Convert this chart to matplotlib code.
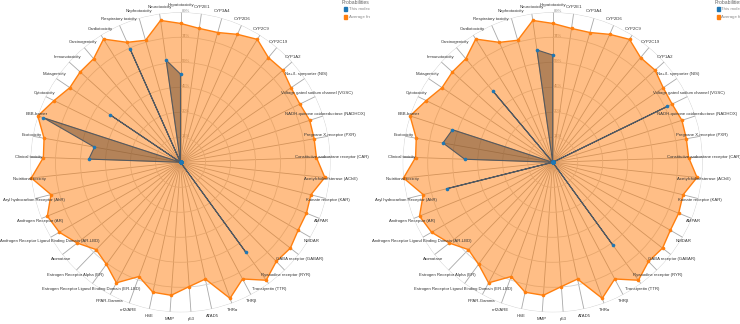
import numpy as np
import matplotlib.pyplot as plt
from matplotlib.patches import Rectangle
from matplotlib.transforms import Bbox, TransformedBbox

plt.rcParams['font.family'] = ['Liberation Sans', 'DejaVu Sans']

W, H = 740, 324

endpoints = [
    "Hepatotoxicity", "CYP2E1", "CYP3A4", "CYP2D6", "CYP2C9", "CYP2C19", "CYP1A2",
    "Na+/I- symporter (NIS)", "Voltage gated sodium channel (VGSC)",
    "NADH-quinone oxidoreductase (NADHOX)", "Pregnane X-receptor (PXR)",
    "Constitutive androstane receptor (CAR)", "Acetylcholinesterase (AChE)",
    "Kainate receptor (KAR)", "AMPAR", "NMDAR", "GABA receptor (GABAR)",
    "Ryanodine receptor (RYR)", "Transtyretin (TTR)", "THRβ", "THRα", "ATAD5",
    "p53", "MMP", "HSE", "nrf2/ARE", "PPAR-Gamma",
    "Estrogen Receptor Ligand Binding Domain (ER-LBD)", "Estrogen Receptor Alpha (ER)",
    "Aromatase", "Androgen Receptor Ligand Binding Domain (AR-LBD)",
    "Androgen Receptor (AR)", "Aryl hydrocarbon Receptor (AhR)",
    "Nutritional toxicity", "Clinical toxicity", "Ecotoxicity", "BBB-barrier",
    "Cytotoxicity", "Mutagenicity", "Immunotoxicity", "Carcinogenicity",
    "Cardiotoxicity", "Respiratory toxicity", "Nephrotoxicity", "Neurotoxicity",
]

average = [
    0.825, 0.803, 0.802, 0.832, 0.861, 0.812, 0.818, 0.792, 0.789, 0.807,
    0.806, 0.808, 0.862, 0.798, 0.807, 0.807, 0.828, 0.819, 0.866, 0.785,
    0.860, 0.709, 0.740, 0.792, 0.789, 0.722, 0.811, 0.749, 0.721, 0.779,
    0.831, 0.853, 0.793, 0.891, 0.815, 0.823, 0.891, 0.836, 0.793, 0.802,
    0.803, 0.863, 0.780, 0.754, 0.851,
]

molecule_left = [
    0.524, 0, 0, 0, 0, 0, 0, 0, 0, 0,
    0, 0, 0, 0, 0, 0, 0, 0, 0.660, 0,
    0, 0, 0, 0, 0, 0, 0, 0, 0, 0,
    0, 0, 0, 0, 0.545, 0.519, 0.856, 0, 0.504, 0,
    0, 0, 0.736, 0, 0.613,
]

molecule_right = [
    0.637, 0, 0, 0, 0, 0, 0, 0, 0.757, 0,
    0, 0, 0, 0, 0, 0, 0, 0, 0.608, 0,
    0, 0, 0, 0, 0, 0, 0, 0, 0, 0,
    0, 0, 0.650, 0, 0.523, 0.662, 0.626, 0, 0, 0,
    0.549, 0, 0, 0, 0.674,
]

legend_title = "Probabilities"
legend_labels = ["This molecule", "Average from database"]

RMAX = 0.891
ORANGE = "#ff7f0e"
BLUE = "#1f77b4"

fig = plt.figure(figsize=(W / 100, H / 100), dpi=100)

n = len(endpoints)
theta = np.arange(n) * 2 * np.pi / n
ticks = [RMAX * k / 6 for k in range(1, 7)]


def radar(cx, cy, mol, panel_x0, legend_x):
    R = 150
    ax = fig.add_axes([(cx - R) / W, (H - cy - R) / H, 2 * R / W, 2 * R / H],
                      projection="polar")
    ax.set_theta_zero_location("N")
    ax.set_theta_direction(-1)
    ax.set_ylim(0, RMAX)
    ax.spines["polar"].set_visible(False)
    ax.set_facecolor("none")
    ax.set_axisbelow(True)
    ax.set_xticks(theta)
    ax.set_xticklabels([])
    ax.set_yticks(ticks)
    ax.set_yticklabels([])
    ax.xaxis.grid(True, color="#a8a8a8", lw=0.6)
    ax.yaxis.grid(True, color="#cfcfcf", lw=0.6)
    ax.tick_params(length=0)

    # radial tick labels along first axis
    for t in ticks:
        ax.annotate(f"{round(t * 100)}%", (0, t), xytext=(1.0, 1.2),
                    textcoords="offset points", ha="left", va="center",
                    fontsize=3.0, color="#909090", zorder=0.9,
                    annotation_clip=False)

    th = np.append(theta, theta[0])
    avg = np.append(average, average[0])
    ax.fill(th, avg, color=ORANGE, alpha=0.5, lw=0, zorder=1, clip_on=False)
    ax.plot(th, avg, color=ORANGE, lw=1.0, zorder=2, clip_on=False)
    ax.plot(theta, average, "o", color=ORANGE, ms=2.6, mec="none",
            zorder=3, clip_on=False)

    m = np.append(mol, mol[0])
    ax.fill(th, m, color="#6b4a2e", alpha=0.5, lw=0, zorder=4, clip_on=False)
    ax.plot(th, m, color="#555a60", lw=0.8, zorder=5, clip_on=False)
    ax.plot(theta, mol, "o", color=BLUE, ms=2.6, mec="none",
            zorder=6, clip_on=False)

    for a, name in zip(theta, endpoints):
        ax.annotate(name, (a, RMAX),
                    xytext=(1.1 * np.sin(a), 5.2 * np.cos(a)),
                    textcoords="offset points", ha="center", va="center",
                    fontsize=3.1, color="#333333", zorder=7,
                    annotation_clip=False)

    # legend, cut off at the panel edge
    clip = TransformedBbox(Bbox([[panel_x0 / W, 0], [(panel_x0 + 370) / W, 1]]),
                           fig.transFigure)
    items = [fig.text(legend_x / W, 1 - 3 / H, legend_title, fontsize=3.6,
                      color="#666666", ha="left", va="center")]
    for k, (lab, col) in enumerate(zip(legend_labels, [BLUE, ORANGE])):
        y = 9 + 8 * k
        fig.patches.append(Rectangle(((legend_x + 2.5) / W, 1 - (y + 1.5) / H),
                                     3 / W, 3 / H, color=col,
                                     transform=fig.transFigure))
        items.append(fig.text((legend_x + 7) / W, 1 - y / H, lab, fontsize=3.2,
                              color="#888888", ha="left", va="center"))
    for t in items:
        t.set_clip_box(clip)
        t.set_clip_on(True)


radar(180.5, 162.3, molecule_left, 0, 341.7)
radar(552.7, 162.3, molecule_right, 370, 714.3)

fig.savefig("out.png", dpi=100, facecolor="white")
